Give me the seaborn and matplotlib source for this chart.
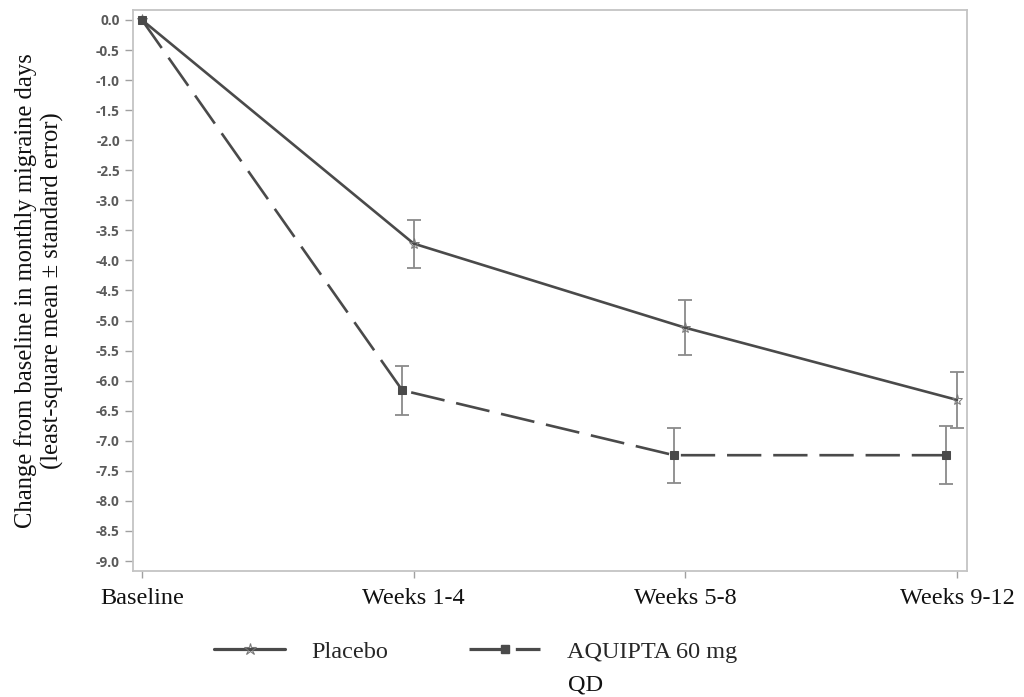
import numpy as np
import pandas as pd
import matplotlib
matplotlib.use("Agg")
import matplotlib.pyplot as plt
from matplotlib.lines import Line2D
import seaborn as sns

# ---- data ----
timepoints = ["Baseline", "Weeks 1-4", "Weeks 5-8", "Weeks 9-12"]
placebo_mean = [0.0, -3.72, -5.12, -6.32]
placebo_se = [0.0, 0.40, 0.46, 0.47]
aquipta_mean = [0.0, -6.16, -7.24, -7.24]
aquipta_se = [0.0, 0.41, 0.46, 0.48]
series_names = ["Placebo", "AQUIPTA 60 mg"]
yticks = [0.0, -0.5, -1.0, -1.5, -2.0, -2.5, -3.0, -3.5, -4.0, -4.5, -5.0,
          -5.5, -6.0, -6.5, -7.0, -7.5, -8.0, -8.5, -9.0]

sns.set_theme(style="white")
plt.rcParams["font.family"] = ["Liberation Serif", "DejaVu Serif"]

fig = plt.figure(figsize=(10.24, 6.97), dpi=100)
ax = fig.add_axes([0.1299, 0.1808, 0.8145, 0.8049])

idx = np.arange(len(timepoints), dtype=float)
shift = np.where(idx > 0, -0.042, 0.0)  # small dodge for second series

df = pd.DataFrame({
    "x": np.concatenate([idx, idx + shift]),
    "y": placebo_mean + aquipta_mean,
    "group": [series_names[0]] * len(idx) + [series_names[1]] * len(idx),
})

line_col = "#4a4a4a"
err_col = "#8a8a8a"

sns.lineplot(data=df, x="x", y="y", hue="group", style="group",
             palette={series_names[0]: line_col, series_names[1]: line_col},
             dashes={series_names[0]: "", series_names[1]: (13, 4.5)},
             markers={series_names[0]: "*", series_names[1]: "s"},
             markersize=6, linewidth=1.9, legend=False, ax=ax, sort=False,
             markeredgecolor=line_col)

for ln in ax.lines[:1]:
    ln.set_markerfacecolor("none")
    ln.set_markeredgewidth(0.7)
    ln.set_markeredgecolor("#777777")
    ln.set_markersize(8)

ax.errorbar(idx[1:], placebo_mean[1:], yerr=placebo_se[1:], fmt="none",
            ecolor=err_col, elinewidth=1.3, capsize=5, capthick=1.3, zorder=1)
ax.errorbar((idx + shift)[1:], aquipta_mean[1:], yerr=aquipta_se[1:], fmt="none",
            ecolor=err_col, elinewidth=1.3, capsize=5, capthick=1.3, zorder=1)

ax.set_xlim(-0.033, 3.037)
ax.set_ylim(-9.166, 0.166)
ax.set_xticks(idx)
ax.set_xticklabels(timepoints, fontsize=17.5, color="#111111")
ax.set_yticks(yticks)
ax.set_yticklabels([f"{v:.1f}" for v in yticks], family="Open Sans",
                   fontweight="bold", fontsize=9.8, color="#5a5a5a")
ax.tick_params(axis="y", length=6, width=1, color="#a0a0a0", pad=3.5, left=True)
ax.tick_params(axis="x", length=5, width=1, color="#a0a0a0", pad=7, bottom=True)
ax.set_xlabel("")
ax.set_ylabel("Change from baseline in monthly migraine days\n(least-square mean \u00b1 standard error)",
              fontsize=17.7, color="#111111", linespacing=1.2)
ax.yaxis.set_label_coords(-0.083, 0.5)

for sp in ax.spines.values():
    sp.set_color("#c4c4c4")
    sp.set_linewidth(1.3)
ax.grid(False)

# legend
h1 = Line2D([0], [0], color=line_col, lw=2.3, marker="*", markersize=9,
            markerfacecolor="none", markeredgecolor="#777777", markeredgewidth=0.8)
h2 = Line2D([0], [0], color=line_col, lw=2.3, marker="s", markersize=6,
            dashes=(12, 2.5), markerfacecolor=line_col, markeredgecolor=line_col)
leg = fig.legend([h1, h2], [series_names[0], series_names[1]], ncol=2,
                 loc="center left", bbox_to_anchor=(0.188, 0.065), frameon=False,
                 fontsize=17.5, handlelength=2.9, handletextpad=1.1,
                 columnspacing=3.33)
fig.text(0.555, 0.017, "QD", fontsize=17.5, color="#111111", ha="left", va="center")

fig.savefig("out.png", dpi=100)
